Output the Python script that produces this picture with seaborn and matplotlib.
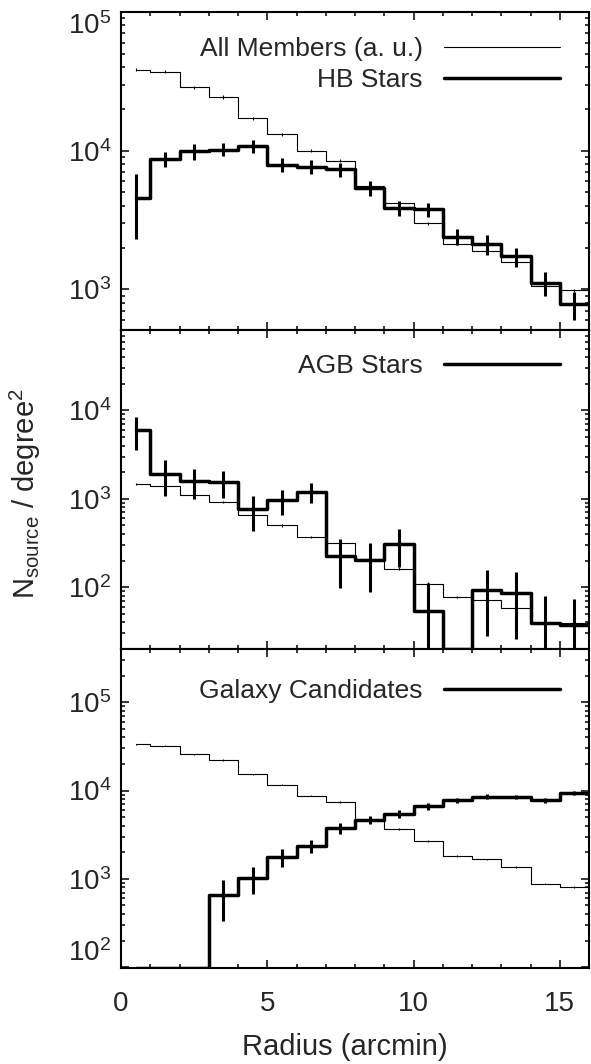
import numpy as np
import pandas as pd
import matplotlib
matplotlib.use("Agg")
import matplotlib.pyplot as plt
import seaborn as sns
from matplotlib.ticker import MultipleLocator, LogLocator, NullFormatter
from matplotlib.lines import Line2D

# ---------------- data ----------------
radius = [0.5, 1.5, 2.5, 3.5, 4.5, 5.5, 6.5, 7.5, 8.5, 9.5, 10.5, 11.5, 12.5, 13.5, 14.5, 15.5]

# panel 1: HB stars
hb_all = [38300, 37000, 28800, 24400, 17200, 13200, 10000, 8470, 5600, 4180, 3000, 2130, 1890, 1570, 1050, 985]
hb_all_err = [950, 920, 720, 610, 430, 330, 250, 210, 140, 105, 75, 55, 48, 40, 27, 25]
hb = [4560, 8710, 9890, 10200, 10800, 7930, 7670, 7340, 5390, 3870, 3770, 2400, 2130, 1730, 1110, 780]
hb_err = [2250, 1100, 1300, 1100, 1150, 900, 850, 850, 650, 490, 450, 325, 350, 275, 215, 180]

# panel 2: AGB stars
agb_all = [1476, 1390, 1100, 925, 653, 500, 372, 319, 209, 162, 110, 78, 71.6, 58.6, 39.7, 39]
agb_all_err = [45, 42, 33, 28, 20, 15, 11, 10, 6, 5, 3.3, 2.4, 2.2, 1.8, 1.2, 1.2]
agb = [5920, 1915, 1585, 1543, 757, 958, 1190, 225, 203, 310, 53.8, 0, 92, 86.7, 39.7, 37.4]
agb_err = [2400, 850, 600, 520, 320, 310, 300, 127, 115, 143, 58, 0, 64, 61, 40, 37]

# panel 3: galaxy candidates
gal_all = [33200, 32300, 25600, 22100, 15200, 11700, 8780, 7450, 4700, 3680, 2670, 1805, 1660, 1370, 885, 805]
gal_all_err = [660, 650, 510, 440, 300, 230, 175, 150, 95, 75, 55, 36, 33, 27, 18, 16]
gal = [0, 0, 0, 653, 1026, 1774, 2343, 3776, 4700, 5495, 6650, 7780, 8480, 8480, 7780, 9420]
gal_err = [0, 0, 0, 317, 350, 400, 400, 540, 500, 550, 600, 550, 550, 500, 500, 550]

legend_labels = [["All Members (a. u.)", "HB Stars"], ["AGB Stars"], ["Galaxy Candidates"]]
x_label = "Radius (arcmin)"
y_label = r"N$_{source}$ / degree$^{2}$"

# ---------------- style ----------------
sns.set_style("ticks")
plt.rcParams["font.family"] = ["Liberation Sans", "DejaVu Sans"]
plt.rcParams["mathtext.default"] = "regular"
plt.rcParams["axes.linewidth"] = 1.5

W, H = 591, 1064
fig = plt.figure(figsize=(W / 100, H / 100), dpi=100)

L = 121 / W
AW = (589 - 121) / W
tops = [12, 330, 649]
bots = [330, 649, 968]
ylims = [(510, 1.0e5), (20, 8.1e4), (98, 4.0e5)]
leg_y = [0.922, 0.924, 0.905]

panels = [
    (hb_all, hb_all_err, hb, hb_err),
    (agb_all, agb_all_err, agb, agb_err),
    (gal_all, gal_all_err, gal, gal_err),
]

r = np.asarray(radius, dtype=float)
edges = np.r_[r[0], (r[:-1] + r[1:]) / 2, r[-1] + 0.5]

THIN = 0.8
THICK = 2.5

axes = []
for i, (allm, allm_err, sel, sel_err) in enumerate(panels):
    ax = fig.add_axes([L, 1 - bots[i] / H, AW, (bots[i] - tops[i]) / H])
    axes.append(ax)
    ax.set_yscale("log")
    ymin, ymax = ylims[i]

    for vals, errs, lw, elw in [(allm, allm_err, THIN, THIN), (sel, sel_err, THICK, 2.2)]:
        v = np.asarray(vals, dtype=float)
        e = np.asarray(errs, dtype=float)
        vplot = np.maximum(v, ymin)
        df = pd.DataFrame({"x": edges, "y": np.r_[vplot, vplot[-1]]})
        sns.lineplot(data=df, x="x", y="y", drawstyle="steps-post", color="black",
                     lw=lw, estimator=None, sort=False, ax=ax, legend=False)
        lo = np.maximum(v - e, ymin * 1e-3)
        hi = v + e
        mask = e > 0
        ax.vlines(r[mask], lo[mask], hi[mask], color="black", lw=elw)

    ax.set_xlim(0, 16)
    ax.set_ylim(ymin, ymax)
    ax.set_xlabel("")
    ax.set_ylabel("")
    ax.xaxis.set_major_locator(MultipleLocator(5))
    ax.xaxis.set_minor_locator(MultipleLocator(1))
    ax.yaxis.set_major_locator(LogLocator(base=10, numticks=20))
    ax.yaxis.set_minor_locator(LogLocator(base=10, subs=np.arange(2, 10), numticks=20))
    ax.yaxis.set_minor_formatter(NullFormatter())
    ax.tick_params(which="both", direction="in", top=True, right=True, color="black",
                   labelsize=20, width=1.1)
    ax.tick_params(which="major", length=5.8)
    ax.tick_params(which="minor", length=3.2)
    ax.tick_params(axis="x", pad=16.5)
    ax.tick_params(axis="y", pad=7)
    for s in ax.spines.values():
        s.set_visible(True)
        s.set_color("black")
        s.set_linewidth(1.5)
    if i < 2:
        ax.tick_params(axis="x", labelbottom=False)

    labs = legend_labels[i]
    if len(labs) == 2:
        handles = [Line2D([], [], color="black", lw=THIN), Line2D([], [], color="black", lw=THICK)]
    else:
        handles = [Line2D([], [], color="black", lw=THICK)]
    ax.legend(handles, labs, loc="upper right", bbox_to_anchor=(0.938, leg_y[i]),
              frameon=False, markerfirst=False, handlelength=4.4, handletextpad=0.8,
              borderpad=0, borderaxespad=0, labelspacing=0.27, fontsize=19)

axes[2].set_xlabel(x_label, fontsize=21)
axes[2].xaxis.set_label_coords((345 - 121) / 468, -0.2025)

fig.text(25 / W, 1 - 494 / H, y_label, rotation=90, ha="center", va="center", fontsize=21)

# keep edge decade labels inside their panels
fig.canvas.draw()
for ax, (val, va) in [(axes[0], (1e5, "top")), (axes[2], (1e2, "bottom"))]:
    for t in ax.yaxis.get_major_ticks():
        if np.isclose(t.get_loc(), val):
            t.label1.set_va(va)

fig.savefig("out.png", dpi=100)
